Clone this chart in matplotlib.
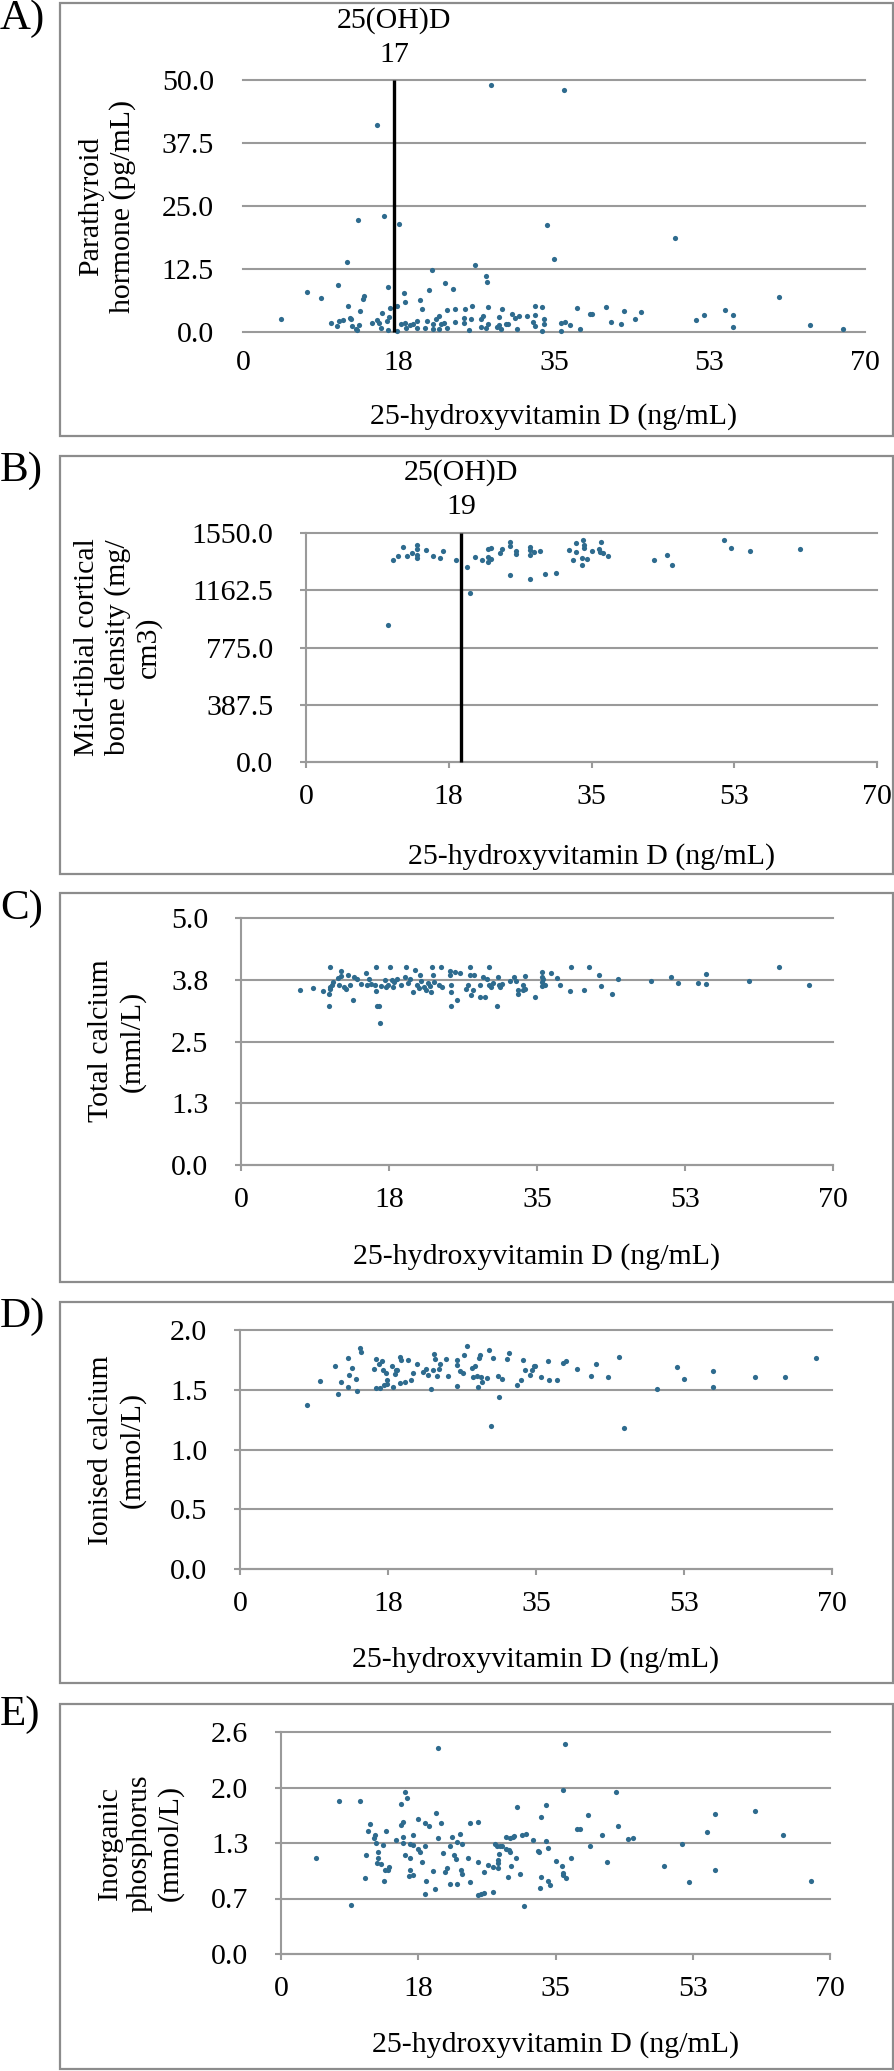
import matplotlib
matplotlib.use('Agg')
import matplotlib.pyplot as plt
from matplotlib import font_manager as fm
from matplotlib.patches import Rectangle

serif_name = None
for path in fm.findSystemFonts():
    low = path.lower()
    if 'liberationserif-regular' in low.replace(' ', '') or 'liberation serif' in low and 'regular' in low:
        fm.fontManager.addfont(path)
        serif_name = fm.FontProperties(fname=path).get_name()
        break
families = [f for f in [serif_name, 'Liberation Serif', 'Times New Roman'] if f]
plt.rcParams['font.family'] = families + ['DejaVu Serif']

# ---------------- data ----------------
x_ticks = [0, 17.5, 35, 52.5, 70]
x_tick_labels = ['0', '18', '35', '53', '70']
x_label = '25-hydroxyvitamin D (ng/mL)'

# A) Parathyroid hormone
pth_vitd = [4.27, 7.24, 8.74, 10.65, 11.74, 12.9, 11.78, 9.9, 10.54, 10.84,
            11.2, 12.08, 12.15, 12.26, 12.7, 13.0, 13.17, 13.47, 13.58, 12.79,
            14.48, 15.04, 15.34, 15.6, 15.53, 15.04, 15.87, 16.28, 16.17, 16.28,
            16.54, 16.47, 17.56, 17.3, 17.3, 18.12, 18.2, 17.82, 18.2, 18.3,
            18.79, 19.17, 19.6, 19.54, 19.92, 20.2, 20.5, 20.7, 20.93, 21.27,
            21.35, 21.42, 21.68, 22.1, 22.32, 22.6, 22.1, 22.77, 22.92, 22.92,
            23.67, 23.9, 23.9, 24.87, 25.0, 24.87, 25.47, 25.7, 25.77, 26.15,
            26.75, 27.05, 26.75, 27.3, 27.46, 27.57, 27.53, 27.35, 27.87, 28.55,
            28.85, 29.15, 28.77, 29.07, 29.56, 29.86, 30.23, 30.57, 30.84, 31.1,
            32.0, 32.6, 32.86, 32.86, 32.9, 33.65, 33.87, 33.87, 33.65, 34.2,
            34.96,
            36.1, 48.65, 35.75, 36.2, 35.75, 36.84, 37.55, 37.96, 39.1, 39.24,
            40.8, 41.45, 42.5, 42.84, 44.15, 44.75, 51.0, 51.9, 54.25, 55.2,
            55.2, 60.3, 63.8, 67.5]
pth_values = [2.5, 7.9, 6.8, 9.3, 13.9, 22.3, 5.2, 1.7, 1.2, 2.2,
              2.4, 2.8, 2.5, 1.1, 0.6, 1.3, 4.1, 6.6, 7.1, 0.4,
              1.7, 2.3, 1.7, 3.8, 0.8, 41.1, 23.0, 8.9, 2.2, 0.3,
              4.7, 3.0, 21.5, 5.2, 0.2, 7.7, 6.0, 1.5, 1.7, 0.8,
              1.3, 1.5, 2.2, 0.8, 6.3, 4.6, 0.7, 2.2, 8.4, 12.4,
              1.5, 0.5, 2.6, 3.1, 1.5, 1.7, 0.5, 9.8, 4.4, 0.8,
              8.5, 1.9, 4.6, 2.8, 4.6, 1.8, 0.3, 2.5, 5.1, 13.3,
              2.5, 3.1, 1.0, 11.2, 10.0, 5.0, 1.5, 0.8, 49.1, 1.0,
              3.0, 4.5, 1.3, 0.5, 1.5, 1.5, 3.5, 2.8, 0.5, 3.2,
              3.2, 2.0, 5.1, 3.3, 1.1, 5.0, 2.6, 1.5, 0.1, 21.3,
              14.5,
              48.1, 18.7, 1.7, 1.9, 0.1, 1.3, 4.7, 0.6, 3.5, 3.6,
              5.0, 1.9, 1.6, 4.1, 2.5, 4.0, 2.4, 3.4, 4.4, 3.3,
              1.0, 7.0, 1.3, 0.5]
pth_cutoff = 17
pth_yticks = [0, 12.5, 25, 37.5, 50]
pth_ytick_labels = ['0.0', '12.5', '25.0', '37.5', '50.0']

# B) Mid-tibial cortical bone density
bmd_vitd = [10.06, 10.7, 11.33, 11.88, 12.33, 12.97, 13.65, 13.65, 13.65, 13.65,
            14.66, 15.57, 16.39, 16.8, 18.34, 19.75, 20.07, 20.66, 21.53, 22.3,
            22.3, 22.66, 22.3, 22.66, 23.8, 23.97, 25.03, 25.03, 25.03, 25.7,
            25.75, 27.5, 27.5, 27.5, 27.5, 28.0, 28.7, 29.3, 30.7, 32.2,
            32.7, 33.05, 33.05, 33.8, 33.8, 34.0, 34.06, 34.1, 34.4, 35.1,
            35.86, 36.0, 36.2, 36.4, 37.0, 42.7, 44.3, 44.9, 51.2, 52.07,
            54.4, 60.5]
bmd_values = [928, 1364, 1392, 1457, 1396, 1412, 1469, 1444, 1380, 1403,
              1435, 1396, 1378, 1430, 1369, 1317, 1143, 1385, 1364, 1353,
              1385, 1374, 1444, 1448, 1414, 1444, 1489, 1464, 1267, 1426,
              1405, 1457, 1435, 1403, 1242, 1421, 1430, 1270, 1276, 1437,
              1367, 1480, 1419, 1380, 1335, 1500, 1466, 1448, 1371, 1426,
              1444, 1421, 1491, 1414, 1396, 1364, 1401, 1335, 1505, 1446,
              1428, 1444]
bmd_cutoff = 19
bmd_yticks = [0, 387.5, 775, 1162.5, 1550]
bmd_ytick_labels = ['0.0', '387.5', '775.0', '1162.5', '1550.0']

# C) Total calcium
tca_vitd = [7.03, 8.57, 9.75, 10.38, 10.47, 10.52, 10.42, 10.47, 10.92, 10.74,
            11.47, 11.56, 11.87, 11.83, 12.19, 12.37, 12.69, 12.87, 13.37, 13.28,
            13.77, 14.23, 14.81, 14.9, 15.18, 15.4, 15.86, 15.95, 15.95, 16.04,
            16.35, 16.44, 16.53, 17.08, 17.12, 17.44, 17.62, 17.89, 17.94, 18.12,
            18.43, 18.93, 19.43, 19.52, 19.7, 20.02, 20.29, 20.52, 20.83, 21.06,
            21.15, 21.24, 21.69, 21.83, 22.14, 22.37, 22.51, 22.6, 22.73, 22.82,
            23.41, 23.64, 23.73, 24.68, 24.77, 24.86, 24.86, 24.86, 25.27, 25.54,
            25.9, 26.58, 26.81, 27.03, 27.12, 27.17, 27.39, 27.58, 28.3, 28.3,
            28.57, 28.84, 29.11, 29.29, 29.38, 29.52, 29.75, 30.29, 30.34, 30.47,
            30.65, 30.92, 31.83, 32.28, 32.55, 32.73, 32.78, 33.37, 33.37, 33.64,
            33.64, 34.72, 35.58, 35.63, 35.54, 35.63, 35.72, 35.95, 36.62, 37.35,
            37.71, 38.89, 39.02, 40.61, 41.19, 42.28, 42.55, 43.91, 44.59, 48.43,
            50.79, 51.69, 54.05, 55.0, 55.0, 60.02, 63.59, 67.2]
tca_values = [3.55, 3.59, 3.53, 3.46, 3.56, 3.61, 3.21, 4.01, 3.70, 3.64,
              3.79, 3.65, 3.93, 3.83, 3.61, 3.57, 3.84, 3.65, 3.81, 3.33,
              3.77, 3.66, 3.88, 3.65, 3.77, 3.66, 3.65, 3.53, 4.01, 3.21,
              3.21, 2.88, 3.62, 3.75, 3.60, 3.65, 4.01, 3.74, 3.60, 3.70,
              3.76, 3.65, 3.81, 4.01, 3.68, 3.77, 3.50, 3.95, 3.65, 3.59,
              3.84, 3.72, 3.61, 3.54, 3.69, 3.62, 3.50, 4.01, 3.85, 3.71,
              3.64, 4.01, 3.61, 3.93, 3.84, 3.65, 3.51, 3.21, 3.91, 3.34,
              3.88, 3.56, 3.65, 3.84, 4.01, 3.44, 3.54, 3.84, 3.65, 3.40,
              3.80, 3.40, 3.76, 4.01, 3.65, 3.60, 3.68, 3.21, 3.80, 3.64,
              3.60, 3.66, 3.73, 3.81, 3.73, 3.54, 3.46, 3.64, 3.54, 3.83,
              3.56, 3.40, 3.91, 3.81, 3.70, 3.62, 3.77, 3.65, 3.88, 3.79,
              3.64, 3.52, 4.01, 3.55, 4.01, 3.84, 3.63, 3.47, 3.76, 3.72,
              3.81, 3.69, 3.69, 3.87, 3.67, 3.73, 4.01, 3.64]
tca_yticks = [0, 1.25, 2.5, 3.75, 5.0]
tca_ytick_labels = ['0.0', '1.3', '2.5', '3.8', '5.0']

# D) Ionised calcium
ica_vitd = [7.96, 9.46, 11.27, 11.58, 11.9, 12.72, 12.81, 12.94, 13.26, 13.76,
            13.89, 14.16, 14.3, 15.79, 16.06, 16.06, 16.38, 16.52, 16.83, 16.88,
            16.97, 17.24, 17.33, 17.33, 18.05, 18.01, 18.28, 18.42, 18.55, 18.87,
            18.91, 19.05, 19.46, 19.86, 20.23, 20.45, 20.91, 21.63, 22.04, 22.26,
            22.63, 22.81, 22.9, 23.03, 23.26, 23.58, 23.67, 24.39, 24.57, 25.61,
            25.66, 25.66, 26.06, 26.34, 26.47, 26.83, 27.51, 27.42, 27.78, 28.1,
            28.06, 28.24, 28.37, 28.51, 28.6, 29.23, 29.5, 29.73, 29.87, 30.45,
            30.59, 30.95, 31.58, 31.81, 32.72, 33.26, 33.49, 33.67, 34.3, 34.57,
            34.71, 34.89, 35.61, 36.43, 36.52, 37.47, 38.19, 38.6, 39.87, 41.45,
            42.08, 43.49, 44.8, 45.43, 49.32, 51.63, 52.54, 55.88, 55.88, 60.95,
            64.44, 68.1]
ica_values = [1.375, 1.576, 1.696, 1.467, 1.568, 1.526, 1.766, 1.623, 1.685, 1.587,
              1.487, 1.849, 1.819, 1.676, 1.755, 1.517, 1.718, 1.517, 1.738, 1.668,
              1.543, 1.637, 1.579, 1.551, 1.526, 1.696, 1.635, 1.668, 1.668, 1.777,
              1.559, 1.749, 1.568, 1.746, 1.579, 1.637, 1.718, 1.649, 1.676, 1.623,
              1.509, 1.668, 1.796, 1.760, 1.618, 1.676, 1.718, 1.755, 1.615, 1.534,
              1.749, 1.710, 1.660, 1.637, 1.788, 1.869, 1.604, 1.685, 1.696, 1.526,
              1.618, 1.766, 1.788, 1.604, 1.568, 1.596, 1.835, 1.197, 1.766, 1.618,
              1.439, 1.587, 1.755, 1.808, 1.537, 1.579, 1.746, 1.668, 1.626, 1.665,
              1.696, 1.696, 1.607, 1.738, 1.579, 1.579, 1.727, 1.738, 1.676, 1.618,
              1.718, 1.607, 1.777, 1.177, 1.509, 1.688, 1.587, 1.657, 1.526, 1.607,
              1.607, 1.766]
ica_yticks = [0, 0.5, 1.0, 1.5, 2.0]
ica_ytick_labels = ['0.0', '0.5', '1.0', '1.5', '2.0']

# E) Inorganic phosphorus
phos_vitd = [4.49, 7.42, 10.1, 8.9, 10.73, 10.82, 11.03, 11.33, 11.88, 12.01,
             12.14, 12.39, 12.35, 12.22, 12.69, 12.99, 13.07, 13.24, 13.33, 13.62,
             13.75, 14.64, 15.24, 15.24, 15.54, 15.58, 15.58, 15.75, 16.05, 15.79,
             16.39, 16.47, 16.43, 16.3, 16.77, 16.81, 16.85, 17.49, 17.49, 17.7,
             18.0, 18.34, 18.34, 18.47, 18.38, 18.89, 19.36, 19.66, 19.79, 19.96,
             20.08, 20.38, 20.64, 20.85, 21.15, 21.53, 21.53, 21.74, 22.08, 22.25,
             22.38, 22.46, 22.76, 22.93, 23.14, 23.1, 23.82, 24.04, 24.08, 25.1,
             25.14, 25.1, 25.48, 25.86, 25.82, 26.37, 26.97, 26.97, 27.27, 27.52,
             27.61, 27.73, 27.69, 27.82, 27.9, 28.12, 28.71, 28.71, 29.01, 29.18,
             28.97, 29.14, 29.31, 29.52, 29.69, 30.07, 29.99, 30.41, 30.75, 31.26,
             31.0, 32.19, 32.71, 32.92, 33.09, 33.09, 33.05, 33.81, 33.85, 34.07,
             34.02, 34.36, 35.09,
             36.27, 35.93, 42.69, 39.2, 42.94, 37.72, 38.1, 40.95, 44.3, 44.94,
             39.37, 35.89, 36.95, 41.58, 35.93, 36.02, 36.4, 48.81, 51.19, 52.08,
             55.35, 54.38, 55.4, 60.45, 63.98, 67.64]
phos_values = [1.119, 1.792, 1.792, 0.579, 0.894, 1.158, 1.438, 1.521, 1.359, 1.399,
               1.300, 1.190, 1.127, 1.060, 1.052, 1.276, 0.859, 0.985, 1.438, 0.985,
               1.024, 1.339, 1.761, 1.509, 1.548, 1.371, 1.300, 1.903, 1.824, 1.158,
               1.292, 1.127, 0.985, 0.914, 0.922, 1.272, 1.391, 1.580, 1.229, 1.190,
               1.076, 1.532, 1.261, 0.859, 0.705, 1.501, 0.973, 0.764, 1.651, 1.359,
               2.41, 1.529, 1.178, 0.961, 1.012, 0.823, 1.261, 1.371, 1.158, 1.107,
               0.823, 1.316, 1.410, 0.989, 1.288, 0.934, 1.127, 0.847, 1.529, 1.548,
               1.076, 0.690, 0.705, 0.713, 0.965, 1.048, 0.725, 1.016, 1.292, 1.265,
               1.064, 1.009, 1.099, 1.170, 1.261, 1.265, 1.229, 1.367, 1.213, 1.359,
               0.906, 1.194, 1.036, 1.375, 1.383, 1.722, 1.119, 0.934, 1.399, 1.406,
               0.563, 1.339, 1.209, 1.194, 1.603, 0.906, 0.772, 1.741, 1.320, 1.237,
               0.859, 0.804, 1.095,
               2.458, 1.918, 1.903, 1.631, 1.501, 1.462, 1.469, 1.391, 1.351, 1.359,
               1.261, 1.036, 1.119, 1.076, 0.946, 0.926, 0.894, 1.036, 1.288, 0.843,
               1.643, 1.430, 0.985, 1.670, 1.391, 0.855]
phos_yticks = [0, 0.65, 1.3, 1.95, 2.6]
phos_ytick_labels = ['0.0', '0.7', '1.3', '2.0', '2.6']

# ---------------- layout / style ----------------
W, H = 895, 2071
fig = plt.figure(figsize=(W / 100, H / 100), dpi=100)

DOT = '#2E6B8E'
GRID = '#9a9a9a'
BOX = '#8c8c8c'
FS = 21.5

panels = [
    dict(letter='A)', letter_y=0, box=(60, 3, 893, 436), axes=(243, 80, 865, 332),
         x=pth_vitd, y=pth_values, yt=pth_yticks, yl=pth_ytick_labels,
         ylabel='Parathyroid\nhormone (pg/mL)', ylab_pos=(107, 206),
         xlab_y=417, cutoff=pth_cutoff, cut_text_y=(21, 55), spine=False),
    dict(letter='B)', letter_y=452, box=(60, 456, 893, 874), axes=(306, 533, 877, 762),
         x=bmd_vitd, y=bmd_values, yt=bmd_yticks, yl=bmd_ytick_labels,
         ylabel='Mid-tibial cortical\nbone density (mg/\ncm3)', ylab_pos=(118, 647),
         xlab_y=857, cutoff=bmd_cutoff, cut_text_y=(473, 507), spine=True),
    dict(letter='C)', letter_y=889, box=(60, 893, 893, 1282), axes=(241, 918, 833, 1165),
         x=tca_vitd, y=tca_values, yt=tca_yticks, yl=tca_ytick_labels,
         ylabel='Total calcium\n(mml/L)', ylab_pos=(117, 1041),
         xlab_y=1257, cutoff=None, cut_text_y=None, spine=True),
    dict(letter='D)', letter_y=1297, box=(60, 1302, 893, 1683), axes=(240, 1330, 832, 1569),
         x=ica_vitd, y=ica_values, yt=ica_yticks, yl=ica_ytick_labels,
         ylabel='Ionised calcium\n(mmol/L)', ylab_pos=(117, 1450),
         xlab_y=1660, cutoff=None, cut_text_y=None, spine=True),
    dict(letter='E)', letter_y=1696, box=(60, 1704, 893, 2069), axes=(281, 1732, 830, 1954),
         x=phos_vitd, y=phos_values, yt=phos_yticks, yl=phos_ytick_labels,
         ylabel='Inorganic\nphosphorus\n(mmol/L)', ylab_pos=(140, 1843),
         xlab_y=2045, cutoff=None, cut_text_y=None, spine=True),
]


def fx(px):
    return px / W


def fy(py):
    return 1 - py / H


for p in panels:
    bl, bt, br, bb = p['box']
    fig.add_artist(Rectangle((fx(bl), fy(bb)), fx(br - bl), (bb - bt) / H,
                             transform=fig.transFigure, fill=False,
                             edgecolor=BOX, linewidth=1.6))
    fig.text(fx(0), fy(p['letter_y']), p['letter'], fontsize=31,
             ha='left', va='top')

    l, t, r, b = p['axes']
    ax = fig.add_axes([fx(l), fy(b), fx(r - l), (b - t) / H])
    ax.set_xlim(0, 70)
    ax.set_ylim(p['yt'][0], p['yt'][-1])
    ax.patch.set_alpha(0)

    for yv in p['yt']:
        ax.axhline(yv, color=GRID, linewidth=1.5, zorder=1, clip_on=False)

    for s in ['top', 'right', 'bottom']:
        ax.spines[s].set_visible(False)
    if p['spine']:
        ax.spines['left'].set_color(GRID)
        ax.spines['left'].set_linewidth(1.5)
        ax.tick_params(axis='both', length=4.5, width=1.5, color=GRID)
        ax.tick_params(axis='y', pad=19)
        ax.tick_params(axis='x', pad=11)
        ax.spines['bottom'].set_visible(True)
        ax.spines['bottom'].set_color(GRID)
        ax.spines['bottom'].set_linewidth(1.5)
    else:
        ax.spines['left'].set_visible(False)
        ax.tick_params(axis='both', length=0)
        ax.tick_params(axis='y', pad=21)
        ax.tick_params(axis='x', pad=13)

    ax.set_xticks(x_ticks)
    ax.set_xticklabels(x_tick_labels, fontsize=FS)
    ax.set_yticks(p['yt'])
    ax.set_yticklabels(p['yl'], fontsize=FS)

    ax.scatter(p['x'], p['y'], s=14, color=DOT, linewidths=0,
               zorder=3, clip_on=False)

    if p['cutoff'] is not None:
        c = p['cutoff']
        ax.plot([c, c], [p['yt'][0], p['yt'][-1]], color='black',
                linewidth=2.4, zorder=4, solid_capstyle='butt', clip_on=False)
        y1, y2 = p['cut_text_y']
        ax.annotate('25(OH)D', xy=(c, H - y1), xycoords=('data', 'figure pixels'),
                    ha='center', va='center', fontsize=FS)
        ax.annotate(str(c), xy=(c, H - y2), xycoords=('data', 'figure pixels'),
                    ha='center', va='center', fontsize=FS)

    fig.text(fx((l + r) / 2), fy(p['xlab_y']), x_label, fontsize=FS,
             ha='center', va='center')
    xp, yp = p['ylab_pos']
    fig.text(fx(xp), fy(yp), p['ylabel'], fontsize=FS, rotation=90,
             ha='center', va='center', multialignment='center',
             linespacing=1.2)

fig.savefig('out.png', dpi=100)
